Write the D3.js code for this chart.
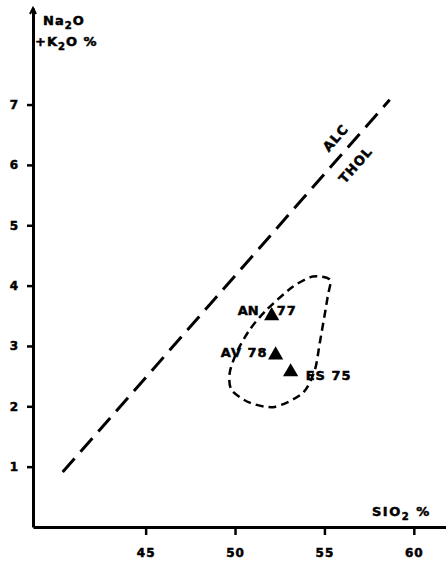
<!DOCTYPE html>
<html>
<head>
<meta charset="utf-8">
<script src="https://cdn.jsdelivr.net/npm/d3@7"></script>
<style>
  html, body { margin: 0; padding: 0; background: #fff; }
  svg { display: block; }
  text { font-family: "DejaVu Sans", sans-serif; font-weight: bold; fill: #000; stroke: #000; stroke-width: 0.5; }
</style>
</head>
<body>
<div id="chart"></div>
<script>
// Data
const xTicks = [45, 50, 55, 60];
const yTicks = [1, 2, 3, 4, 5, 6, 7];

const samples = ['AN 77', 'AV 78', 'ES 75'];
const sampleSiO2 = [52.05, 52.27, 53.11];
const sampleAlk = [3.50, 2.85, 2.57];

// alkaline / tholeiitic divide
const divideSiO2 = [40.36, 58.65];
const divideAlk = [0.91, 7.08];

// dashed envelope around the samples
const fieldSiO2 = [55.30, 55.18, 54.74, 54.46, 53.79, 52.22, 50.82, 49.81, 49.70, 50.09, 50.82, 51.77, 53.23, 54.35];
const fieldAlk = [4.10, 3.81, 3.05, 2.60, 2.22, 1.99, 2.06, 2.27, 2.55, 2.89, 3.27, 3.60, 3.98, 4.15];

const W = 446, H = 562;

const svg = d3.select('#chart')
  .append('svg')
  .attr('width', W)
  .attr('height', H);

const x = d3.scaleLinear().domain([38.7, 61.8]).range([33, 446]);
const y = d3.scaleLinear().domain([0, 8.6]).range([527, 8]);

// Axes
const xAxis = d3.axisBottom(x).tickValues(xTicks).tickSize(8).tickSizeOuter(0).tickPadding(13);
const yAxis = d3.axisLeft(y).tickValues(yTicks).tickSize(6).tickSizeOuter(0).tickPadding(9);

const gx = svg.append('g')
  .attr('transform', `translate(0,${y(0)})`)
  .call(xAxis);
gx.select('.domain').attr('stroke', '#000').attr('stroke-width', 3);
gx.selectAll('.tick line').attr('stroke', '#000').attr('stroke-width', 2.5);
gx.selectAll('.tick text')
  .style('font-size', '12px')
  .style('font-weight', 'bold')
  .style('font-family', '"DejaVu Sans", sans-serif')
  .style('letter-spacing', '1px')
  .attr('fill', '#000');

const gy = svg.append('g')
  .attr('transform', `translate(${x(38.7)},0)`)
  .call(yAxis);
gy.select('.domain').attr('stroke', '#000').attr('stroke-width', 3);
gy.selectAll('.tick line').attr('stroke', '#000').attr('stroke-width', 2.5);
gy.selectAll('.tick text')
  .style('font-size', '12px')
  .style('font-weight', 'bold')
  .style('font-family', '"DejaVu Sans", sans-serif')
  .attr('fill', '#000');

// small arrow tip at top of y axis
svg.append('path')
  .attr('d', `M${x(38.7) - 3},${y(8.6) + 6}L${x(38.7)},${y(8.6)}L${x(38.7) + 3},${y(8.6) + 6}`)
  .attr('fill', 'none')
  .attr('stroke', '#000')
  .attr('stroke-width', 2);

// Axis titles
const yTitle1 = svg.append('text')
  .attr('x', 43)
  .attr('y', 25)
  .style('font-size', '13px')
  .style('letter-spacing', '1px');
yTitle1.append('tspan').text('Na');
yTitle1.append('tspan').attr('dy', 4).style('font-size', '10px').text('2');
yTitle1.append('tspan').attr('dy', -4).text('O');

const yTitle2 = svg.append('text')
  .attr('x', 35)
  .attr('y', 46)
  .style('font-size', '13px')
  .style('letter-spacing', '1px');
yTitle2.append('tspan').text('+K');
yTitle2.append('tspan').attr('dy', 4).style('font-size', '10px').text('2');
yTitle2.append('tspan').attr('dy', -4).text('O %');

const xTitle = svg.append('text')
  .attr('x', 372)
  .attr('y', 516)
  .style('font-size', '13px')
  .style('letter-spacing', '1.5px');
xTitle.append('tspan').text('SIO');
xTitle.append('tspan').attr('dy', 4).style('font-size', '10px').text('2');
xTitle.append('tspan').attr('dy', -4).text(' %');

// Divide line
svg.append('line')
  .attr('x1', x(divideSiO2[0]))
  .attr('y1', y(divideAlk[0]))
  .attr('x2', x(divideSiO2[1]))
  .attr('y2', y(divideAlk[1]))
  .attr('stroke', '#000')
  .attr('stroke-width', 3)
  .attr('stroke-dasharray', '18,9');

const angle = Math.atan2(y(divideAlk[1]) - y(divideAlk[0]), x(divideSiO2[1]) - x(divideSiO2[0])) * 180 / Math.PI;

svg.append('text')
  .attr('transform', `translate(339,141) rotate(${angle})`)
  .attr('text-anchor', 'middle')
  .style('font-size', '13px')
  .style('letter-spacing', '1px')
  .text('ALC');

svg.append('text')
  .attr('transform', `translate(359,168) rotate(${angle})`)
  .attr('text-anchor', 'middle')
  .style('font-size', '13px')
  .style('letter-spacing', '1px')
  .text('THOL');

// Envelope
const field = fieldSiO2.map((d, i) => [x(d), y(fieldAlk[i])]);
svg.append('path')
  .attr('d', d3.line().curve(d3.curveCardinalClosed.tension(0.2))(field))
  .attr('fill', 'none')
  .attr('stroke', '#000')
  .attr('stroke-width', 2.5)
  .attr('stroke-dasharray', '8,5');

// Samples
const pts = samples.map((d, i) => ({ name: d, sx: x(sampleSiO2[i]), sy: y(sampleAlk[i]) }));

svg.selectAll('path.sample')
  .data(pts)
  .enter()
  .append('path')
  .attr('class', 'sample')
  .attr('d', d3.symbol().type(d3.symbolTriangle).size(100))
  .attr('transform', d => `translate(${d.sx},${d.sy})`)
  .attr('fill', '#000');

// Sample labels
const lab = pts[0];
svg.append('text').attr('x', lab.sx - 13).attr('y', lab.sy - 1)
  .attr('text-anchor', 'end').style('font-size', '13px').text('AN');
svg.append('text').attr('x', lab.sx + 5).attr('y', lab.sy - 1)
  .style('font-size', '13px').style('letter-spacing', '1px').text('77');

svg.append('text').attr('x', pts[1].sx - 8).attr('y', pts[1].sy + 2)
  .attr('text-anchor', 'end').style('font-size', '13px').style('letter-spacing', '1px').text('AV 78');

svg.append('text').attr('x', pts[2].sx + 15).attr('y', pts[2].sy + 8)
  .style('font-size', '13px').style('letter-spacing', '1px').text('ES 75');
</script>
</body>
</html>
